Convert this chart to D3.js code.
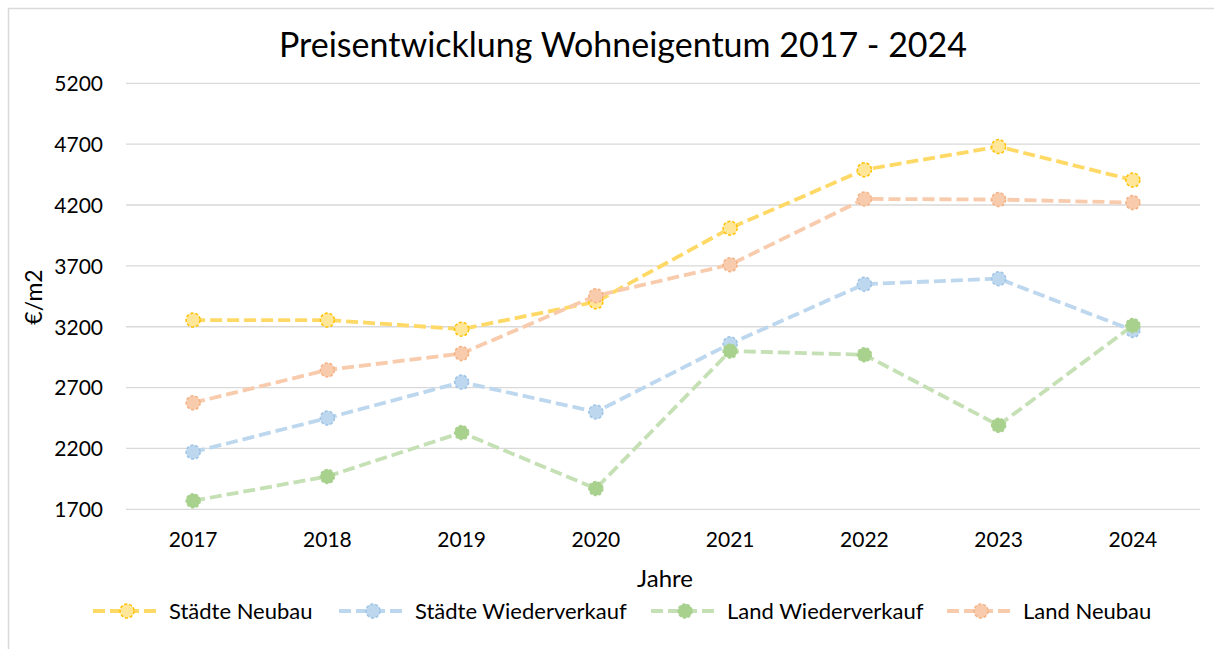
<!DOCTYPE html>
<html>
<head>
<meta charset="utf-8">
<script src="https://cdn.jsdelivr.net/npm/d3@7"></script>
<style>
  html, body { margin: 0; padding: 0; background: #fff; }
  svg { display: block; font-family: Lato, "Open Sans", sans-serif; }
</style>
</head>
<body>
<svg id="chart"></svg>
<script>
// Data
const years = ["2017", "2018", "2019", "2020", "2021", "2022", "2023", "2024"];
const staedteNeubau = [3255, 3255, 3180, 3405, 4010, 4490, 4680, 4405];
const staedteWiederverkauf = [2170, 2450, 2745, 2500, 3060, 3550, 3595, 3170];
const landWiederverkauf = [1770, 1970, 2330, 1870, 3000, 2970, 2390, 3210];
const landNeubau = [2575, 2845, 2980, 3455, 3710, 4250, 4245, 4220];
const yTicks = [1700, 2200, 2700, 3200, 3700, 4200, 4700, 5200];

const series = [
    {name: "Städte Neubau", values: staedteNeubau, line: "#FFD966", fill: "#FFE699", stroke: "#FFC000"},
    {name: "Städte Wiederverkauf", values: staedteWiederverkauf, line: "#BDD7EE", fill: "#BDD7EE", stroke: "#9DC3E6"},
    {name: "Land Wiederverkauf", values: landWiederverkauf, line: "#C5E0B4", fill: "#A9D18E", stroke: "#A9D18E"},
    {name: "Land Neubau", values: landNeubau, line: "#F8CBAD", fill: "#F8CBAD", stroke: "#F4B183"}
];

const width = 1214;
const height = 649;
const margin = {top: 83.3, right: 14, bottom: 139.7, left: 126};

const svg = d3.select("#chart")
    .attr("width", width)
    .attr("height", height);

// Chart frame
svg.append("rect")
    .attr("x", 8.5)
    .attr("y", 8.5)
    .attr("width", width)
    .attr("height", height)
    .attr("fill", "#fff")
    .attr("stroke", "#d9d9d9")
    .attr("stroke-width", 1.5);

// Scales
const x = d3.scaleBand()
    .domain(years)
    .range([margin.left, width - margin.right]);

const y = d3.scaleLinear()
    .domain([1700, 5200])
    .range([height - margin.bottom, margin.top]);

// Gridlines
svg.append("g")
    .selectAll("line")
    .data(yTicks)
    .enter()
    .append("line")
    .attr("x1", margin.left)
    .attr("x2", width - margin.right)
    .attr("y1", d => y(d))
    .attr("y2", d => y(d))
    .attr("stroke", "#d9d9d9")
    .attr("stroke-width", 1.3);

// Y axis
const yAxis = svg.append("g")
    .attr("transform", `translate(${margin.left - 23},0)`)
    .call(d3.axisLeft(y).tickValues(yTicks).tickFormat(d3.format("d")).tickSize(0).tickPadding(0));
yAxis.select(".domain").remove();
yAxis.selectAll("text")
    .attr("font-family", "Lato, sans-serif")
    .attr("font-size", 21)
    .attr("fill", "#000")
    .attr("dy", "0.35em");

// X axis
const xAxis = svg.append("g")
    .attr("transform", `translate(0,${height - margin.bottom + 23})`)
    .call(d3.axisBottom(x).tickSize(0).tickPadding(0));
xAxis.select(".domain").remove();
xAxis.selectAll("text")
    .attr("font-family", "Lato, sans-serif")
    .attr("font-size", 21)
    .attr("fill", "#000")
    .attr("dy", "0.71em");

// Title
svg.append("text")
    .attr("x", 623)
    .attr("y", 57)
    .attr("text-anchor", "middle")
    .attr("font-size", 34)
    .attr("fill", "#000")
    .text("Preisentwicklung Wohneigentum 2017 - 2024");

// Axis titles
svg.append("text")
    .attr("x", 665)
    .attr("y", 587)
    .attr("text-anchor", "middle")
    .attr("font-size", 24)
    .text("Jahre");

svg.append("text")
    .attr("transform", "rotate(-90)")
    .attr("x", -297)
    .attr("y", 42)
    .attr("text-anchor", "middle")
    .attr("font-size", 23)
    .text("€/m2");

// Lines and markers
const line = d3.line()
    .x((d, i) => x(years[i]) + x.bandwidth() / 2)
    .y(d => y(d));

series.forEach(s => {
    svg.append("path")
        .datum(s.values)
        .attr("fill", "none")
        .attr("stroke", s.line)
        .attr("stroke-width", 3.8)
        .attr("stroke-dasharray", "12,5")
        .attr("d", line);

    svg.append("g")
        .selectAll("circle")
        .data(s.values)
        .enter()
        .append("circle")
        .attr("cx", (d, i) => x(years[i]) + x.bandwidth() / 2)
        .attr("cy", d => y(d))
        .attr("r", 7)
        .attr("fill", s.fill)
        .attr("stroke", s.stroke)
        .attr("stroke-width", 1.5)
        .attr("stroke-dasharray", "3,2");
});

// Legend
const legendY = 611;
const legendX = [93, 339, 651, 947];

series.forEach((s, i) => {
    const g = svg.append("g")
        .attr("transform", `translate(${legendX[i]},${legendY})`);
    g.append("line")
        .attr("x1", 0)
        .attr("x2", 66)
        .attr("stroke", s.line)
        .attr("stroke-width", 3.8)
        .attr("stroke-dasharray", "12,5");
    g.append("circle")
        .attr("cx", 34)
        .attr("r", 7)
        .attr("fill", s.fill)
        .attr("stroke", s.stroke)
        .attr("stroke-width", 1.5)
        .attr("stroke-dasharray", "3,2");
    g.append("text")
        .attr("x", 76)
        .attr("dy", "0.35em")
        .attr("font-size", 22)
        .text(s.name);
});
</script>
</body>
</html>
